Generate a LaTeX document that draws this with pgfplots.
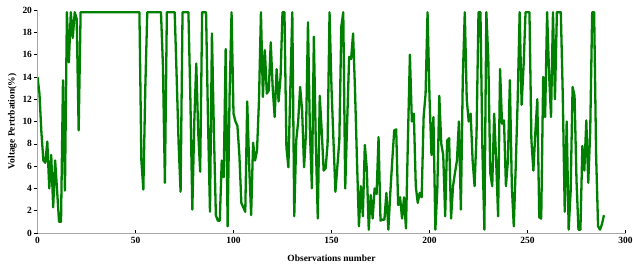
\documentclass[border=0pt]{standalone}
\usepackage{fontspec}
\setmainfont{Liberation Serif}
\usepackage{pgfplots}
\pgfplotsset{compat=1.18}
\definecolor{lg}{RGB}{0,128,0}
\begin{document}
\begin{tikzpicture}
\begin{axis}[
  scale only axis,
  width=588bp, height=223bp,
  xmin=0, xmax=300, ymin=0, ymax=20,
  xtick={0,50,...,300}, ytick={0,2,...,20},
  axis x line*=bottom, axis y line*=left,
  axis line style={gray!70, line width=0.8pt},
  xtick align=inside, ytick align=outside,
  major tick length=3bp,
  tick style={black, line width=0.6pt},
  /pgf/number format/assume math mode=true,
  ticklabel style={font=\bfseries\fontsize{9.5}{10}\selectfont},
  xticklabel style={yshift=-1bp},
  yticklabel style={xshift=1bp},
  xlabel={Observations number},
  ylabel={Voltage Pertrbation(\%)},
  label style={font=\bfseries\fontsize{9.5}{10}\selectfont},
  xlabel style={yshift=-4bp},
  ylabel style={yshift=-1bp},
]
\addplot[color=lg, line width=2.3bp, line join=round] coordinates {
(0,14) (1,12.5) (2,9) (3,6.5) (4,6.3) (5,8.2) (6,4.0) (7,7.0) (8,2.3) (9,6.5)
(10,3.8) (11,1.0) (12,1.0) (13,13.7) (14,3.8) (15,19.8) (16,15.3) (17,19.8) (18,17.5) (19,19.8)
(20,19.2) (21,9.2) (22,19.8) (52,19.8) (53,6.5) (54,3.9) (55,13) (56,19.8) (63,19.8) (64,15)
(65,4.5) (66,19.8) (70,19.8) (71,14) (72,8) (73,3.7) (74,19.8) (77,19.8) (78,12) (79,2.1)
(80,10) (81,15.2) (82,9) (83,5.5) (84,19.8) (86,19.8) (87,10) (88,1.9) (89,17.9) (90,9)
(91,1.6) (92,1.1) (93,1.1) (94,6.5) (95,5) (96,16.5) (97,0.6) (98,12.3) (99,19.8) (100,10.7)
(101,10) (102,9.6) (103,7) (104,2.7) (105,2.3) (106,1.9) (107,11.8) (108,6) (109,1.6) (110,8.1)
(111,6.5) (112,7.4) (113,11.9) (114,19.8) (115,12.2) (116,16.4) (117,12.5) (118,12.8) (119,17.1) (120,13)
(121,10.4) (122,14.7) (123,11.8) (124,14) (125,19.8) (126,19.8) (127,7.7) (128,5.9) (129,13) (130,19.8)
(131,1.5) (132,8.3) (133,10) (134,13.1) (135,11) (136,5.9) (137,9) (138,18.9) (139,9) (140,4)
(141,17.6) (142,8) (143,1.3) (144,12.3) (145,9.2) (146,5.6) (147,5.8) (148,8) (149,19.8) (150,13)
(151,8.3) (152,3.7) (153,6) (154,8.3) (155,18.5) (156,19.8) (157,4) (158,10) (159,15.8) (160,15.6)
(161,17.9) (162,12.8) (163,6.5) (164,0.6) (165,4.2) (166,1.5) (167,7.9) (168,5.8) (169,0.3) (170,3.4)
(171,1.3) (172,4) (173,3.5) (174,8.6) (175,1.1) (176,1.2) (177,1.2) (178,3.6) (179,0.3) (180,3.6)
(181,6.5) (182,9.2) (183,9.3) (184,2.5) (185,3.2) (186,1.3) (187,3.2) (188,0.4) (189,8.5) (190,16)
(191,10) (192,10.7) (193,4.2) (194,2.7) (195,3.6) (196,3.2) (197,10.4) (198,12.5) (199,19.8) (200,12.2)
(201,7) (202,10.4) (203,0.3) (204,4) (205,12.3) (206,8) (207,7) (208,1.5) (209,8.3) (210,8.5)
(211,1.3) (212,4.2) (213,5.4) (214,6.5) (215,10) (216,2.1) (217,14) (218,19.8) (219,12) (220,10)
(221,10.7) (222,6.5) (223,4.2) (224,8.9) (225,19.8) (226,19.8) (227,7.4) (228,0.3) (229,19.8) (230,15.6)
(231,5.4) (232,4.2) (233,10.7) (234,6.5) (235,1.5) (236,14.7) (237,9.8) (238,10.1) (239,4.2) (240,6.5)
(241,13.7) (242,4.2) (243,0.6) (244,6) (245,12) (246,19.8) (247,11.5) (248,15) (249,19.8) (250,19.8)
(251,19.8) (252,8.3) (253,5.6) (254,9) (255,12) (256,1.4) (257,1.3) (258,14) (259,10.4) (260,19.8)
(261,14.3) (262,10.4) (263,19.8) (264,12) (265,19.8) (266,19.8) (267,19.8) (268,12.3) (269,1.9) (270,10)
(271,0.3) (272,3.7) (273,13.1) (274,12.3) (275,4.7) (276,0.3) (277,0.3) (278,7.8) (279,5.6) (280,10.1)
(281,4.5) (282,9.2) (283,19.8) (284,19.8) (285,7) (286,0.6) (287,0.3) (288,0.8) (289,1.6)
};
\end{axis}
\pgfresetboundingbox
\path (-37.5bp,-33bp) rectangle (595.5bp,233bp);
\end{tikzpicture}
\end{document}
